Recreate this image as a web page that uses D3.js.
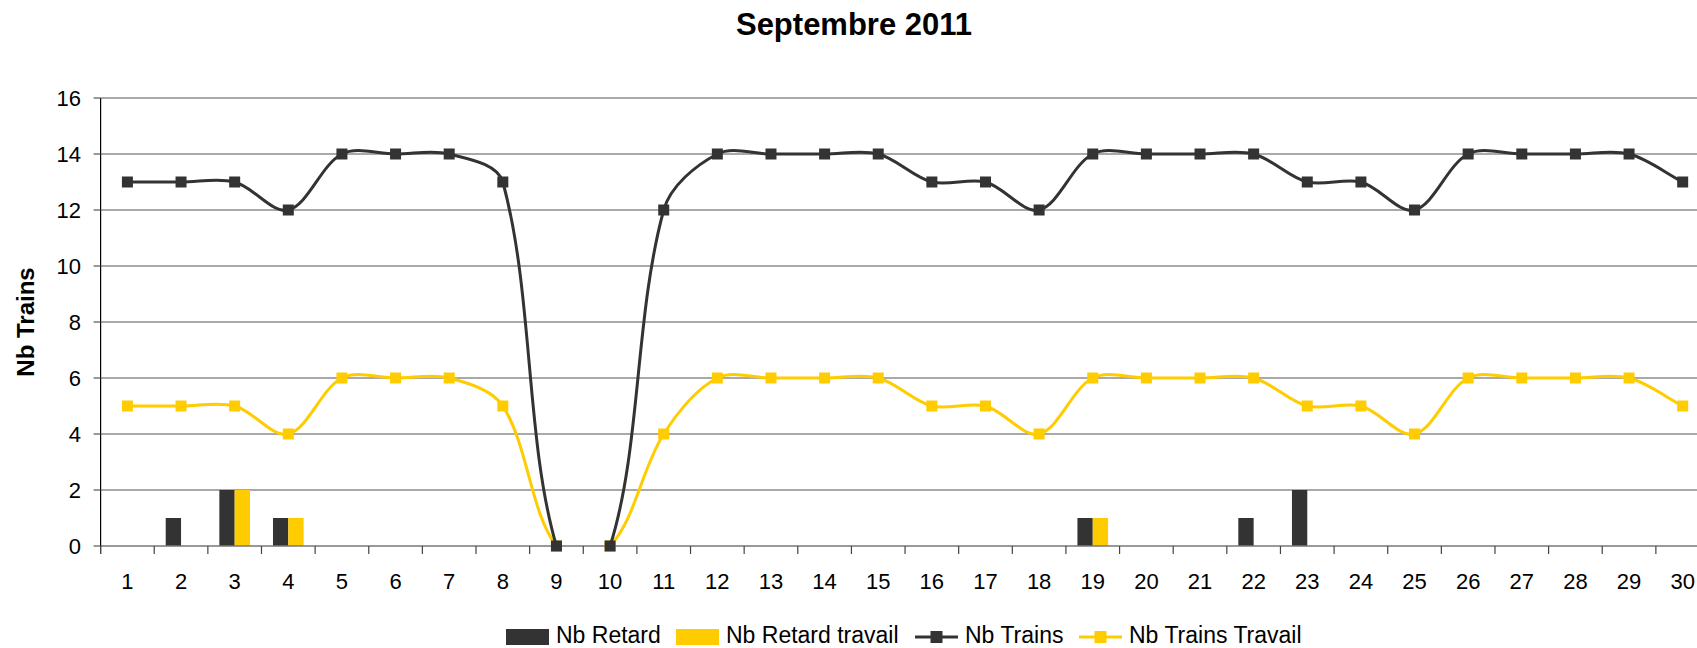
<!DOCTYPE html>
<html>
<head>
<meta charset="utf-8">
<script src="https://cdnjs.cloudflare.com/ajax/libs/d3/7.8.5/d3.min.js"></script>
<style>
  body { margin: 0; background: #fff; }
  svg { display: block; font-family: "Liberation Sans", Arial, sans-serif; }
</style>
</head>
<body>
<div id="chart"></div>
<script>
var days = d3.range(1, 31).map(String);
var nbRetard        = [0,1,2,1,0,0,0,0,0,0,0,0,0,0,0,0,0,0,1,0,0,1,2,0,0,0,0,0,0,0];
var nbRetardTravail = [0,0,2,1,0,0,0,0,0,0,0,0,0,0,0,0,0,0,1,0,0,0,0,0,0,0,0,0,0,0];
var nbTrains        = [13,13,13,12,14,14,14,13,0,0,12,14,14,14,14,13,13,12,14,14,14,14,13,13,12,14,14,14,14,13];
var nbTrainsTravail = [5,5,5,4,6,6,6,5,0,0,4,6,6,6,6,5,5,4,6,6,6,6,5,5,4,6,6,6,6,5];
var yTicks = [0, 2, 4, 6, 8, 10, 12, 14, 16];

var width = 1697;
var height = 648;
var dark = "#333333";
var yellow = "#FFCC00";

var plotLeft = 100.6;
var step = 53.63;
var plotTop = 98;
var plotBottom = 546;

// smoothing close to excel's: tangent split by chord length
function excelCurve(context) {
  var pts;
  return {
    areaStart: function () {},
    areaEnd: function () {},
    lineStart: function () { pts = []; },
    point: function (px, py) { pts.push([+px, +py]); },
    lineEnd: function () {
      var n = pts.length;
      if (!n) return;
      var dist = function (a, b) { return Math.hypot(b[0] - a[0], b[1] - a[1]); };
      var tan = function (i) {
        var a = pts[Math.max(i - 1, 0)], b = pts[Math.min(i + 1, n - 1)];
        return [b[0] - a[0], b[1] - a[1]];
      };
      context.moveTo(pts[0][0], pts[0][1]);
      for (var i = 0; i < n - 1; i++) {
        var p = pts[i], q = pts[i + 1];
        var dPrev = i > 0 ? dist(pts[i - 1], p) : 0;
        var dCur = dist(p, q);
        var dNext = i + 2 < n ? dist(q, pts[i + 2]) : 0;
        var t1 = tan(i), t2 = tan(i + 1);
        var f1 = dCur / (dPrev + dCur) / 3;
        var f2 = dCur / (dCur + dNext) / 3;
        if (i === 0) f1 = 1 / 3;
        if (i + 2 >= n) f2 = 1 / 3;
        context.bezierCurveTo(p[0] + t1[0] * f1, p[1] + t1[1] * f1,
          q[0] - t2[0] * f2, q[1] - t2[1] * f2, q[0], q[1]);
      }
    }
  };
}

var svg = d3.select("#chart").append("svg")
  .attr("width", width).attr("height", height);

var x = d3.scaleBand().domain(days).range([plotLeft, plotLeft + step * days.length]).padding(0);
var y = d3.scaleLinear().domain([0, 16]).range([plotBottom, plotTop]);

// bars: gap width 150% like excel
var barW = x.bandwidth() / 3.5;
var sub = d3.scaleBand().domain(["retard", "travail"]).range([-barW, barW]);

// grid
svg.append("g").selectAll("line")
  .data(yTicks.filter(function (d) { return d > 0; }))
  .enter().append("line")
  .attr("x1", plotLeft).attr("x2", width)
  .attr("y1", function (d) { return y(d); })
  .attr("y2", function (d) { return y(d); })
  .attr("stroke", "#555").attr("stroke-width", 1.2);

// bars
var barData = [];
days.forEach(function (d, i) {
  barData.push({ day: d, key: "retard", v: nbRetard[i], c: dark });
  barData.push({ day: d, key: "travail", v: nbRetardTravail[i], c: yellow });
});
svg.append("g").selectAll("rect")
  .data(barData.filter(function (d) { return d.v > 0; }))
  .enter().append("rect")
  .attr("x", function (d) { return x(d.day) + x.bandwidth() / 2 + sub(d.key); })
  .attr("width", sub.bandwidth())
  .attr("y", function (d) { return y(d.v); })
  .attr("height", function (d) { return y(0) - y(d.v); })
  .attr("fill", function (d) { return d.c; });

// axes
svg.append("line")
  .attr("x1", plotLeft).attr("x2", width)
  .attr("y1", y(0)).attr("y2", y(0))
  .attr("stroke", "#777").attr("stroke-width", 1.5);
svg.append("line")
  .attr("x1", plotLeft).attr("x2", plotLeft)
  .attr("y1", y(16)).attr("y2", y(0) + 8)
  .attr("stroke", "#000").attr("stroke-width", 1.2);

svg.append("g").selectAll("line")
  .data(d3.range(0, days.length + 1))
  .enter().append("line")
  .attr("x1", function (k) { return plotLeft + k * x.step(); })
  .attr("x2", function (k) { return plotLeft + k * x.step(); })
  .attr("y1", y(0)).attr("y2", y(0) + 8)
  .attr("stroke", "#444").attr("stroke-width", 1.2);

svg.append("g").selectAll("line")
  .data(yTicks)
  .enter().append("line")
  .attr("x1", plotLeft - 7).attr("x2", plotLeft)
  .attr("y1", function (d) { return y(d); })
  .attr("y2", function (d) { return y(d); })
  .attr("stroke", "#555").attr("stroke-width", 1.2);

svg.append("g").selectAll("text")
  .data(yTicks)
  .enter().append("text")
  .attr("x", 81).attr("y", function (d) { return y(d); })
  .attr("dy", "0.36em")
  .attr("text-anchor", "end")
  .attr("font-size", 22)
  .text(function (d) { return d; });

svg.append("g").selectAll("text")
  .data(days)
  .enter().append("text")
  .attr("x", function (d) { return x(d) + x.bandwidth() / 2; })
  .attr("y", 589)
  .attr("text-anchor", "middle")
  .attr("font-size", 22)
  .text(function (d) { return d; });

// lines (clipped to plot area, excel style)
svg.append("clipPath").attr("id", "plot")
  .append("rect")
  .attr("x", plotLeft).attr("y", y(16))
  .attr("width", width - plotLeft).attr("height", y(0) - y(16));

var line = d3.line()
  .x(function (d, i) { return x(days[i]) + x.bandwidth() / 2; })
  .y(function (d) { return y(d); })
  .curve(excelCurve);

[[nbTrainsTravail, yellow], [nbTrains, dark]].forEach(function (s) {
  svg.append("path")
    .attr("clip-path", "url(#plot)")
    .attr("d", line(s[0]))
    .attr("fill", "none")
    .attr("stroke", s[1])
    .attr("stroke-width", 3);
  svg.append("g").selectAll("rect")
    .data(s[0])
    .enter().append("rect")
    .attr("x", function (d, i) { return x(days[i]) + x.bandwidth() / 2 - 5.5; })
    .attr("y", function (d) { return y(d) - 5.5; })
    .attr("width", 11).attr("height", 11)
    .attr("fill", s[1]);
});

// title
svg.append("text")
  .attr("x", 854).attr("y", 35)
  .attr("text-anchor", "middle")
  .attr("font-size", 31).attr("font-weight", "bold")
  .text("Septembre 2011");

svg.append("text")
  .attr("transform", "translate(34,322) rotate(-90)")
  .attr("text-anchor", "middle")
  .attr("font-size", 24).attr("font-weight", "bold")
  .text("Nb Trains");

// legend
var legend = [
  { label: "Nb Retard", c: dark, type: "bar", x: 506 },
  { label: "Nb Retard travail", c: yellow, type: "bar", x: 676 },
  { label: "Nb Trains", c: dark, type: "line", x: 915 },
  { label: "Nb Trains Travail", c: yellow, type: "line", x: 1079 }
];
var lg = svg.append("g").selectAll("g").data(legend).enter().append("g")
  .attr("transform", function (d) { return "translate(" + d.x + ",0)"; });
lg.filter(function (d) { return d.type === "bar"; }).append("rect")
  .attr("x", 0).attr("y", 629).attr("width", 43).attr("height", 16)
  .attr("fill", function (d) { return d.c; });
lg.filter(function (d) { return d.type === "line"; }).append("line")
  .attr("x1", 0).attr("x2", 43).attr("y1", 637).attr("y2", 637)
  .attr("stroke", function (d) { return d.c; }).attr("stroke-width", 3);
lg.filter(function (d) { return d.type === "line"; }).append("rect")
  .attr("x", 15.5).attr("y", 631).attr("width", 12).attr("height", 12)
  .attr("fill", function (d) { return d.c; });
lg.append("text")
  .attr("x", 50).attr("y", 643)
  .attr("font-size", 23)
  .text(function (d) { return d.label; });
</script>
</body>
</html>
